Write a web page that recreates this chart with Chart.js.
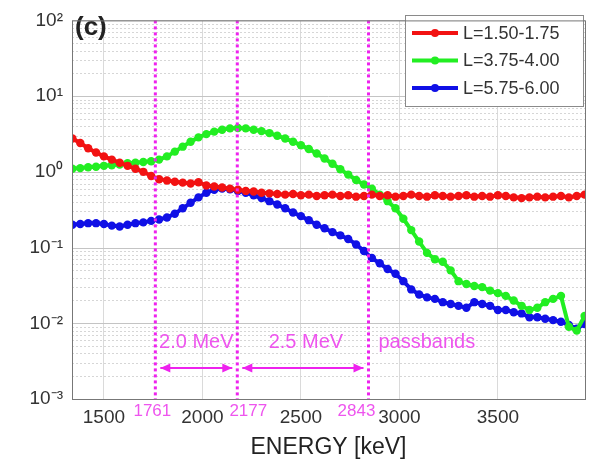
<!DOCTYPE html>
<html>
<head>
<meta charset="utf-8">
<script src="https://cdn.jsdelivr.net/npm/chart.js@4/dist/chart.umd.min.js"></script>
<style>
html, body { margin: 0; padding: 0; background: #fff; }
#wrap { width: 596px; height: 463px; }
</style>
</head>
<body>
<div id="wrap"><canvas id="chart" width="596" height="463"></canvas></div>
<script>
// energies in keV
var energy = [1340,1380,1420,1460,1500,1540,1580,1620,1660,1700,1740,1780,1820,1860,1900,1940,1980,2020,2060,2100,
  2140,2180,2220,2260,2300,2340,2380,2420,2460,2500,2540,2580,2620,2660,2700,2740,2780,2820,2860,2900,
  2940,2980,3020,3060,3100,3140,3180,3220,3260,3300,3340,3380,3420,3460,3500,3540,3580,3620,3660,3700,
  3740,3780,3820,3860,3900,3940];

// L=1.50-1.75
var redVals = [2.75,2.4,2.05,1.8,1.6,1.45,1.32,1.2,1.1,1.0,0.88,0.8,0.77,0.74,0.72,0.7,0.73,0.66,0.64,0.62,
  0.6,0.58,0.56,0.55,0.53,0.52,0.51,0.5,0.51,0.49,0.5,0.48,0.49,0.5,0.48,0.49,0.47,0.48,0.5,0.48,
  0.49,0.47,0.48,0.5,0.48,0.47,0.49,0.48,0.47,0.48,0.49,0.47,0.48,0.47,0.49,0.48,0.46,0.45,0.46,0.47,
  0.46,0.47,0.48,0.46,0.48,0.5];

// L=3.75-4.00
var greenVals = [1.1,1.12,1.15,1.17,1.2,1.22,1.25,1.3,1.32,1.35,1.38,1.45,1.6,1.85,2.15,2.5,2.85,3.15,3.4,3.6,
  3.75,3.8,3.75,3.6,3.45,3.25,3.0,2.75,2.5,2.25,2.0,1.75,1.5,1.28,1.08,0.92,0.78,0.68,0.6,0.5,
  0.41,0.33,0.24,0.17,0.12,0.085,0.07,0.065,0.05,0.036,0.033,0.031,0.03,0.027,0.025,0.023,0.02,0.017,0.015,0.016,
  0.019,0.021,0.023,0.009,0.008,0.0125];

// L=5.75-6.00
var blueVals = [0.2,0.205,0.21,0.21,0.205,0.195,0.19,0.2,0.21,0.215,0.225,0.235,0.25,0.28,0.33,0.39,0.46,0.53,0.58,0.6,
  0.59,0.56,0.53,0.49,0.45,0.41,0.37,0.33,0.29,0.26,0.23,0.2,0.18,0.16,0.145,0.13,0.11,0.09,0.073,0.062,
  0.052,0.045,0.036,0.028,0.024,0.022,0.021,0.019,0.018,0.017,0.016,0.019,0.018,0.017,0.015,0.015,0.014,0.0135,0.012,0.012,
  0.0115,0.011,0.0105,0.0095,0.0085,0.0098];

var seriesNames = ["L=1.50-1.75", "L=3.75-4.00", "L=5.75-6.00"];
var seriesColors = ["#f21212", "#22ee22", "#1010e6"];
var xTicks = [1500, 2000, 2500, 3000, 3500];
var passbandEdges = [1761, 2177, 2843];
var bandLabels = ["2.0 MeV", "2.5 MeV", "passbands"];

var FONT = "'Liberation Sans', Arial, Helvetica, sans-serif";
var MAGENTA = "#ee22ee";

function toPoints(vals) {
  return vals.map(function(v, i) { return { x: energy[i], y: v }; });
}

function makeSet(idx, vals) {
  return {
    label: seriesNames[idx],
    data: toPoints(vals),
    borderColor: seriesColors[idx],
    backgroundColor: seriesColors[idx],
    borderWidth: 4,
    pointRadius: 4.2,
    pointBorderWidth: 0,
    pointBackgroundColor: seriesColors[idx],
    tension: 0
  };
}

var sup = { "-": "\u207B", "0": "\u2070", "1": "\u00B9", "2": "\u00B2", "3": "\u00B3" };

var decor = {
  id: "decor",
  beforeDatasetsDraw: function(chart) {
    var ctx = chart.ctx, area = chart.chartArea, y = chart.scales.y;
    ctx.save();
    y.ticks.forEach(function(t) {
      var py = Math.round(y.getPixelForValue(t.value)) + 0.5;
      ctx.beginPath();
      if (t.major) { ctx.strokeStyle = "#c4c4c4"; ctx.setLineDash([]); }
      else { ctx.strokeStyle = "#d6d6d6"; ctx.setLineDash([2, 2]); }
      ctx.lineWidth = 1;
      ctx.moveTo(area.left, py);
      ctx.lineTo(area.right, py);
      ctx.stroke();
    });
    ctx.restore();
  },
  afterDatasetsDraw: function(chart) {
    var ctx = chart.ctx, area = chart.chartArea, x = chart.scales.x;
    var px = passbandEdges.map(function(e) { return x.getPixelForValue(e); });
    ctx.save();

    // passband edges
    ctx.strokeStyle = MAGENTA;
    ctx.lineWidth = 3;
    ctx.setLineDash([3, 3]);
    px.forEach(function(p) {
      ctx.beginPath();
      ctx.moveTo(p, area.top);
      ctx.lineTo(p, area.bottom);
      ctx.stroke();
    });
    ctx.setLineDash([]);

    // band labels
    ctx.fillStyle = "#ee55ee";
    ctx.font = "20px " + FONT;
    ctx.textBaseline = "middle";
    ctx.textAlign = "center";
    ctx.fillText(bandLabels[0], (px[0] + px[1]) / 2, 342);
    ctx.fillText(bandLabels[1], (px[1] + px[2]) / 2 + 3, 342);
    ctx.textAlign = "left";
    ctx.fillText(bandLabels[2], px[2] + 10, 342);

    // arrows
    ctx.strokeStyle = MAGENTA;
    ctx.fillStyle = MAGENTA;
    ctx.lineWidth = 2;
    function arrow(a, b, yy) {
      ctx.beginPath();
      ctx.moveTo(a, yy); ctx.lineTo(b, yy); ctx.stroke();
      [[a, 1], [b, -1]].forEach(function(h) {
        ctx.beginPath();
        ctx.moveTo(h[0], yy);
        ctx.lineTo(h[0] + h[1] * 10, yy - 4.5);
        ctx.lineTo(h[0] + h[1] * 10, yy + 4.5);
        ctx.closePath();
        ctx.fill();
      });
    }
    arrow(px[0] + 5, px[1] - 5, 368);
    arrow(px[1] + 5, px[2] - 5, 368);

    // edge values under the axis
    var shift = [-3, 11, -12];
    ctx.font = "17px " + FONT;
    ctx.textAlign = "center";
    ctx.fillStyle = "#ee55ee";
    px.forEach(function(p, i) {
      ctx.fillText(String(passbandEdges[i]), p + shift[i], 411);
    });

    // panel tag
    ctx.fillStyle = "#222";
    ctx.font = "bold 26px " + FONT;
    ctx.textAlign = "left";
    ctx.fillText("(c)", area.left + 3, 28);

    // legend
    var lx = 405, ly = 15, lw = 178, lh = 91;
    ctx.fillStyle = "#fff";
    ctx.fillRect(lx, ly, lw, lh);
    ctx.strokeStyle = "#8a8a8a";
    ctx.lineWidth = 1;
    ctx.strokeRect(lx + 0.5, ly + 0.5, lw, lh);
    ctx.font = "18px " + FONT;
    ctx.textAlign = "left";
    seriesNames.forEach(function(name, i) {
      var yy = 33 + i * 27.5;
      ctx.strokeStyle = seriesColors[i];
      ctx.lineWidth = 4;
      ctx.beginPath();
      ctx.moveTo(412, yy); ctx.lineTo(458, yy); ctx.stroke();
      ctx.fillStyle = seriesColors[i];
      ctx.beginPath();
      ctx.arc(435, yy, 4, 0, Math.PI * 2);
      ctx.fill();
      ctx.fillStyle = "#333";
      ctx.fillText(name, 463, yy + 1);
    });

    // frame
    ctx.strokeStyle = "#777";
    ctx.lineWidth = 1;
    ctx.strokeRect(area.left + 0.5, area.top + 0.5, area.right - area.left, area.bottom - area.top);
    ctx.restore();
  }
};

var ctx = document.getElementById("chart");

var chart = new Chart(ctx, {
  type: "line",
  data: {
    datasets: [makeSet(0, redVals), makeSet(1, greenVals), makeSet(2, blueVals)]
  },
  plugins: [decor],
  options: {
    responsive: false,
    animation: false,
    layout: { padding: { top: 9, right: 11, left: 0, bottom: 0 } },
    plugins: {
      legend: { display: false },
      tooltip: { enabled: false }
    },
    scales: {
      x: {
        type: "linear",
        min: 1338,
        max: 3942,
        afterFit: function(s) { s.height = 64; },
        afterBuildTicks: function(s) {
          s.ticks = xTicks.map(function(v) { return { value: v }; });
        },
        ticks: {
          padding: 7,
          color: "#333",
          font: { family: FONT, size: 19 },
          maxRotation: 0,
          autoSkip: false,
          callback: function(value) { return String(value); }
        },
        grid: { color: "#dadada", drawTicks: false },
        border: { display: false },
        title: {
          display: true,
          text: "ENERGY [keV]",
          color: "#222",
          font: { family: FONT, size: 23 },
          padding: { top: 2, bottom: 2 }
        }
      },
      y: {
        type: "logarithmic",
        min: 0.001,
        max: 100,
        afterFit: function(s) { s.width = 72; },
        afterBuildTicks: function(s) {
          var t = [];
          for (var e = -3; e <= 2; e++) {
            for (var m = 1; m <= 9; m++) {
              if (e === 2 && m > 1) break;
              t.push({ value: parseFloat((m * Math.pow(10, e)).toPrecision(3)), major: m === 1, exp: e });
            }
          }
          s.ticks = t;
        },
        ticks: {
          autoSkip: false,
          padding: 9,
          color: "#333",
          font: { family: FONT, size: 19 },
          callback: function(value, index, ticks) {
            var t = ticks[index];
            if (!t.major) return "";
            return "10" + String(t.exp).split("").map(function(c) { return sup[c]; }).join("");
          }
        },
        grid: { display: false, drawTicks: false },
        border: { display: false }
      }
    }
  }
});
</script>
</body>
</html>
